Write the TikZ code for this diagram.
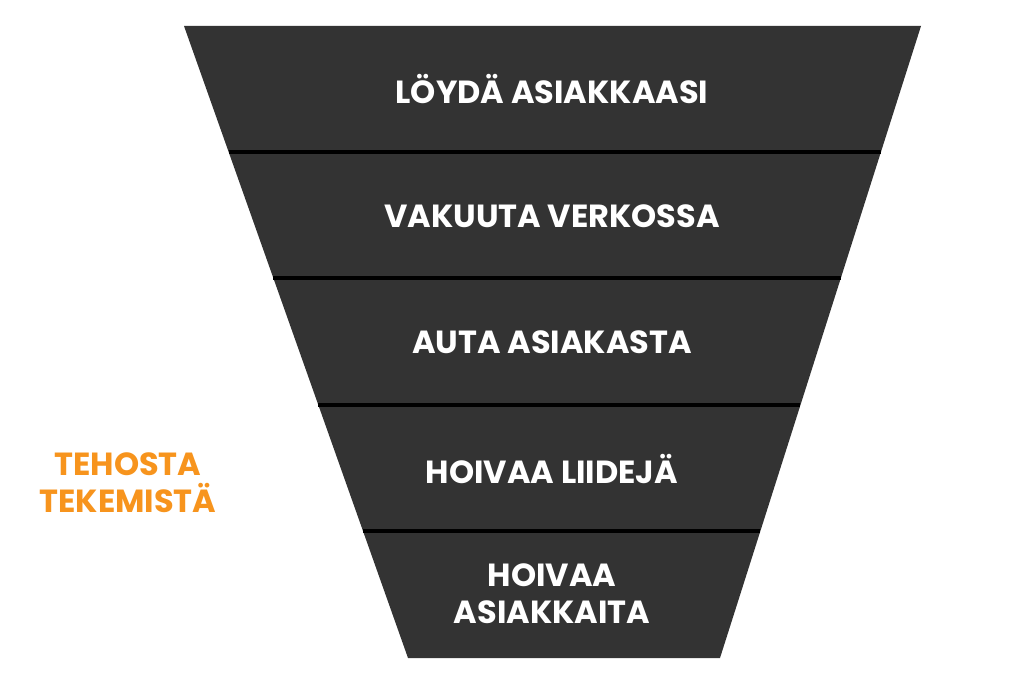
\documentclass[tikz,border=0pt]{standalone}
\usepackage{fontspec}
\setmainfont{Poppins}
\definecolor{band}{HTML}{333333}
\definecolor{org}{HTML}{F7941D}
\begin{document}
\begin{tikzpicture}[x=0.75pt,y=-0.75pt,
  lbl/.style={text=white,font=\bfseries\fontsize{24}{28}\selectfont,align=center},
  sep/.style={black,line width=2.5pt}]
\useasboundingbox[fill=white] (0,0) rectangle (1024,680);
\fill[band] (184,26) -- (921,26) -- (720,658) -- (408,658) -- cycle;
\foreach \y in {152,278,405,531}{
  \pgfmathsetmacro{\xl}{184+(\y-26)/632*224}
  \pgfmathsetmacro{\xr}{921-(\y-26)/632*201}
  \draw[sep] (\xl,\y) -- (\xr,\y);
}
\node[lbl] (s1) at (552,89) {LÖYDÄ ASIAKKAASI};
\node[lbl] (s2) at (552,216) {VAKUUTA VERKOSSA};
\node[lbl] (s3) at (552,342) {AUTA ASIAKASTA};
\node[lbl] (s4) at (552,469) {HOIVAA LIIDEJÄ};
\node[lbl] (s5) at (552,594) {HOIVAA\\ASIAKKAITA};
\node[text=org,font=\bfseries\fontsize{24}{28}\selectfont,align=center] (t) at (128,483) {TEHOSTA\\TEKEMISTÄ};
\end{tikzpicture}
\end{document}
